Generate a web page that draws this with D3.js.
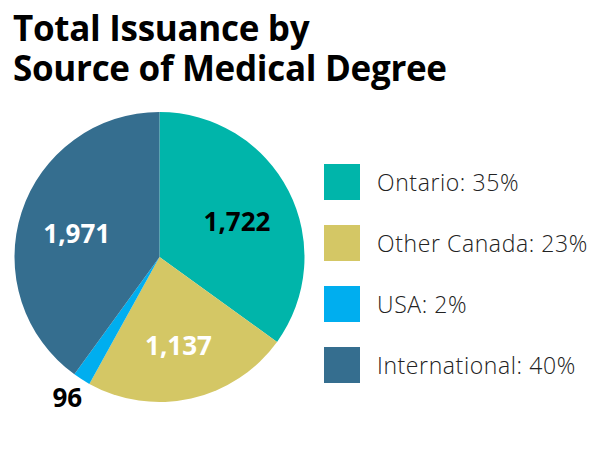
<!DOCTYPE html>
<html lang="en">
<head>
<meta charset="UTF-8">
<title>Total Issuance by Source of Medical Degree</title>
<script src="https://cdn.jsdelivr.net/npm/d3@7"></script>
<style>
    body { margin: 0; background: #fff; }
    svg { font-family: "Open Sans", "Noto Sans", sans-serif; }
    .title { font-size: 35px; font-weight: 700; fill: #000; letter-spacing: -0.3px; }
    .legend text { font-size: 23px; font-weight: 300; fill: #222; letter-spacing: 0.6px; }
    .val { font-size: 26px; font-weight: 700; }
</style>
</head>
<body>
<div id="graphDiv"></div>
<script>
    // data
    const categories = ["Ontario", "Other Canada", "USA", "International"];
    const counts = [1722, 1137, 96, 1971];
    const percents = [35, 23, 2, 40];
    const colors = ["#00b5aa", "#d4c765", "#00aeef", "#356e8f"];
    const labelColors = ["#000", "#fff", "#000", "#fff"];

    const width = 602, height = 465;
    const cx = 159.5, cy = 257, radius = 145;

    const data = categories.map((c, i) => ({ name: c, value: counts[i], pct: percents[i] }));

    const svg = d3.select("#graphDiv").append("svg")
        .attr("width", width)
        .attr("height", height);

    // title
    const title = svg.append("text").attr("class", "title");
    title.append("tspan").attr("x", 13).attr("y", 41).text("Total Issuance by");
    title.append("tspan").attr("x", 13).attr("y", 81).text("Source of Medical Degree");

    const color = d3.scaleOrdinal().domain(categories).range(colors);

    const pie = d3.pie().sort(null).value(d => d.value);
    const arcs = pie(data);
    const arc = d3.arc().innerRadius(0).outerRadius(radius);

    const g = svg.append("g").attr("transform", `translate(${cx},${cy})`);

    g.selectAll("path")
        .data(arcs)
        .join("path")
        .attr("d", arc)
        .attr("fill", d => color(d.data.name));

    // value labels (small slice gets its label outside)
    const labelArc = d3.arc().innerRadius(radius * 0.6).outerRadius(radius * 0.6);
    const outerArc = d3.arc().innerRadius(radius * 1.12).outerRadius(radius * 1.12);
    g.selectAll("text.val")
        .data(arcs)
        .join("text")
        .attr("class", "val")
        .attr("text-anchor", "middle")
        .attr("dy", "0.35em")
        .attr("fill", (d, i) => labelColors[i])
        .attr("transform", d => {
            const small = d.data.value < 200;
            const [x, y] = small ? outerArc.centroid(d) : labelArc.centroid(d);
            return small ? `translate(${x - 5},${y + 4})` : `translate(${x},${y + 4})`;
        })
        .text(d => d3.format(",")(d.data.value));

    // legend
    const legend = svg.append("g")
        .attr("class", "legend")
        .attr("transform", "translate(324,164)");
    const ys = d3.scalePoint().domain(categories).range([0, 183]);

    categories.forEach((c, i) => {
        const row = legend.append("g").attr("transform", `translate(0,${ys(c)})`);
        row.append("rect")
            .attr("width", 36)
            .attr("height", 36)
            .attr("fill", color(c));
        row.append("text")
            .attr("x", 53)
            .attr("y", 27)
            .text(`${c}: ${percents[i]}%`);
    });
</script>
</body>
</html>
